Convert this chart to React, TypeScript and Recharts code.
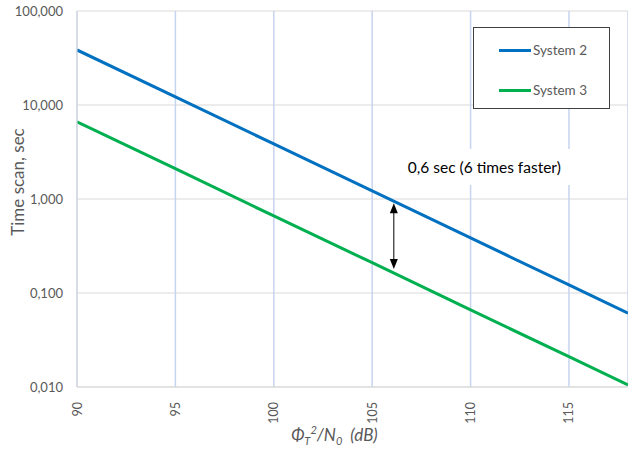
import React from 'react';
import {
  LineChart, Line, XAxis, YAxis, CartesianGrid, Legend, ReferenceLine, ReferenceDot,
} from 'recharts';

const xValues = [90, 95, 100, 105, 110, 115, 118];
const system2 = [38.5, 12.2, 3.85, 1.22, 0.385, 0.122, 0.061];
const system3 = [6.6, 2.1, 0.66, 0.21, 0.066, 0.021, 0.0105];
const xTicks = [90, 95, 100, 105, 110, 115];
const yTicks = [0.01, 0.1, 1, 10, 100];
const arrowX = 106.1;
const arrowTop = 0.9;
const arrowBottom = 0.18;
const noteX = 110.7;
const noteY = 2.19;
const noteText = '0,6 sec (6 times faster)';

const data = xValues.map((x, i) => ({ x, s2: system2[i], s3: system3[i] }));

const FONT = 'Lato, "Open Sans", sans-serif';
const GRAY = '#595959';

const XTick = (props: any) => {
  const { x, y, payload } = props;
  return (
    <text x={x} y={y} transform={`rotate(-90 ${x} ${y})`} textAnchor="end"
      dominantBaseline="central" fill={GRAY} fontSize={12.5} fontFamily={FONT}>
      {payload.value}
    </text>
  );
};

const XTitle = (props: any) => {
  const vb = props.viewBox;
  const cx = vb.x + vb.width / 2 - 18;
  return (
    <text x={cx} y={441} textAnchor="middle" fill={GRAY} fontSize={17} fontFamily={FONT} fontStyle="italic">
      <tspan>Φ</tspan>
      <tspan fontSize={11} dy={4}>T</tspan>
      <tspan fontSize={11} dy={-11}>2</tspan>
      <tspan dy={7}>/N</tspan>
      <tspan fontSize={11} dy={4}>0</tspan>
      <tspan dy={-4}>{'\u00a0\u00a0(dB)'}</tspan>
    </text>
  );
};

const YTitle = (props: any) => {
  const vb = props.viewBox;
  const x = 24;
  const y = vb.y + vb.height / 2 - 17;
  return (
    <text x={x} y={y} transform={`rotate(-90 ${x} ${y})`} textAnchor="middle" fill={GRAY}
      fontSize={17} fontFamily={FONT}>
      Time scan, sec
    </text>
  );
};

const ArrowShape = (props: any) => {
  const { x1, y1, x2, y2 } = props;
  const top = Math.min(y1, y2);
  const bot = Math.max(y1, y2);
  const x = x1;
  return (
    <g>
      <line x1={x} y1={top + 8} x2={x} y2={bot - 8} stroke="#000" strokeWidth={1} />
      <polygon points={`${x},${top} ${x - 4},${top + 10} ${x + 4},${top + 10}`} fill="#000" />
      <polygon points={`${x},${bot} ${x - 4},${bot - 10} ${x + 4},${bot - 10}`} fill="#000" />
    </g>
  );
};

const NoteShape = (props: any) => {
  const { cx, cy } = props;
  return (
    <g>
      <rect x={cx - 88} y={cy - 18} width={180} height={36} fill="#fff" />
      <text x={cx} y={cy} textAnchor="middle" dominantBaseline="central" fill="#000"
        fontSize={15.5} fontFamily={FONT}>
        {noteText}
      </text>
    </g>
  );
};

const LegendBox = (props: any) => {
  const items = props.payload || [];
  return (
    <div style={{
      width: 137, height: 82, border: '1.5px solid #404040', background: '#fff',
      boxSizing: 'border-box', position: 'relative', fontFamily: FONT,
    }}>
      {items.map((it: any, i: number) => (
        <div key={i} style={{
          position: 'absolute', left: 25, top: i === 0 ? 13 : 53, height: 18,
          display: 'flex', alignItems: 'center',
        }}>
          <div style={{ width: 32, height: 3, background: it.color }} />
          <span style={{ marginLeft: 2, fontSize: 13.5, color: GRAY }}>{it.value}</span>
        </div>
      ))}
    </div>
  );
};

export default function App() {
  return (
    <div style={{ position: 'absolute', left: 0, top: 0, width: 628, height: 451, overflow: 'hidden', background: '#fff' }}>
      <LineChart width={628} height={451} data={data} margin={{ top: 11, right: 0, bottom: 0, left: 0 }}>
        <CartesianGrid horizontal={true} vertical={false} stroke="#d9d9d9" strokeWidth={1} />
        <CartesianGrid horizontal={false} vertical={true} stroke="#c6d4ef" strokeWidth={1.5} />
        <XAxis dataKey="x" type="number" domain={[90, 118]} ticks={xTicks} allowDataOverflow
          height={64} tickSize={0} tickMargin={15} tick={<XTick />}
          axisLine={{ stroke: '#d9d9d9' }} tickLine={false} label={<XTitle />} />
        <YAxis scale="log" domain={[0.01, 100]} ticks={yTicks} allowDataOverflow width={77}
          tickSize={0} tickMargin={14} tickLine={false} axisLine={{ stroke: '#d9d9d9' }}
          tickFormatter={(v: number) => v.toFixed(3).replace('.', ',')}
          tick={{ fill: GRAY, fontSize: 13, fontFamily: FONT }} label={<YTitle />} />
        <Line type="linear" dataKey="s2" name="System 2" stroke="#0070c0" strokeWidth={3}
          dot={false} isAnimationActive={false} />
        <Line type="linear" dataKey="s3" name="System 3" stroke="#00b050" strokeWidth={3}
          dot={false} isAnimationActive={false} />
        <ReferenceLine segment={[{ x: arrowX, y: arrowTop }, { x: arrowX, y: arrowBottom }]}
          shape={<ArrowShape />} />
        <ReferenceDot x={noteX} y={noteY} shape={<NoteShape />} />
        <Legend layout="vertical" align="center" verticalAlign="middle"
          wrapperStyle={{ left: 473, top: 27, width: 137, height: 82 }} content={<LegendBox />} />
      </LineChart>
    </div>
  );
}
